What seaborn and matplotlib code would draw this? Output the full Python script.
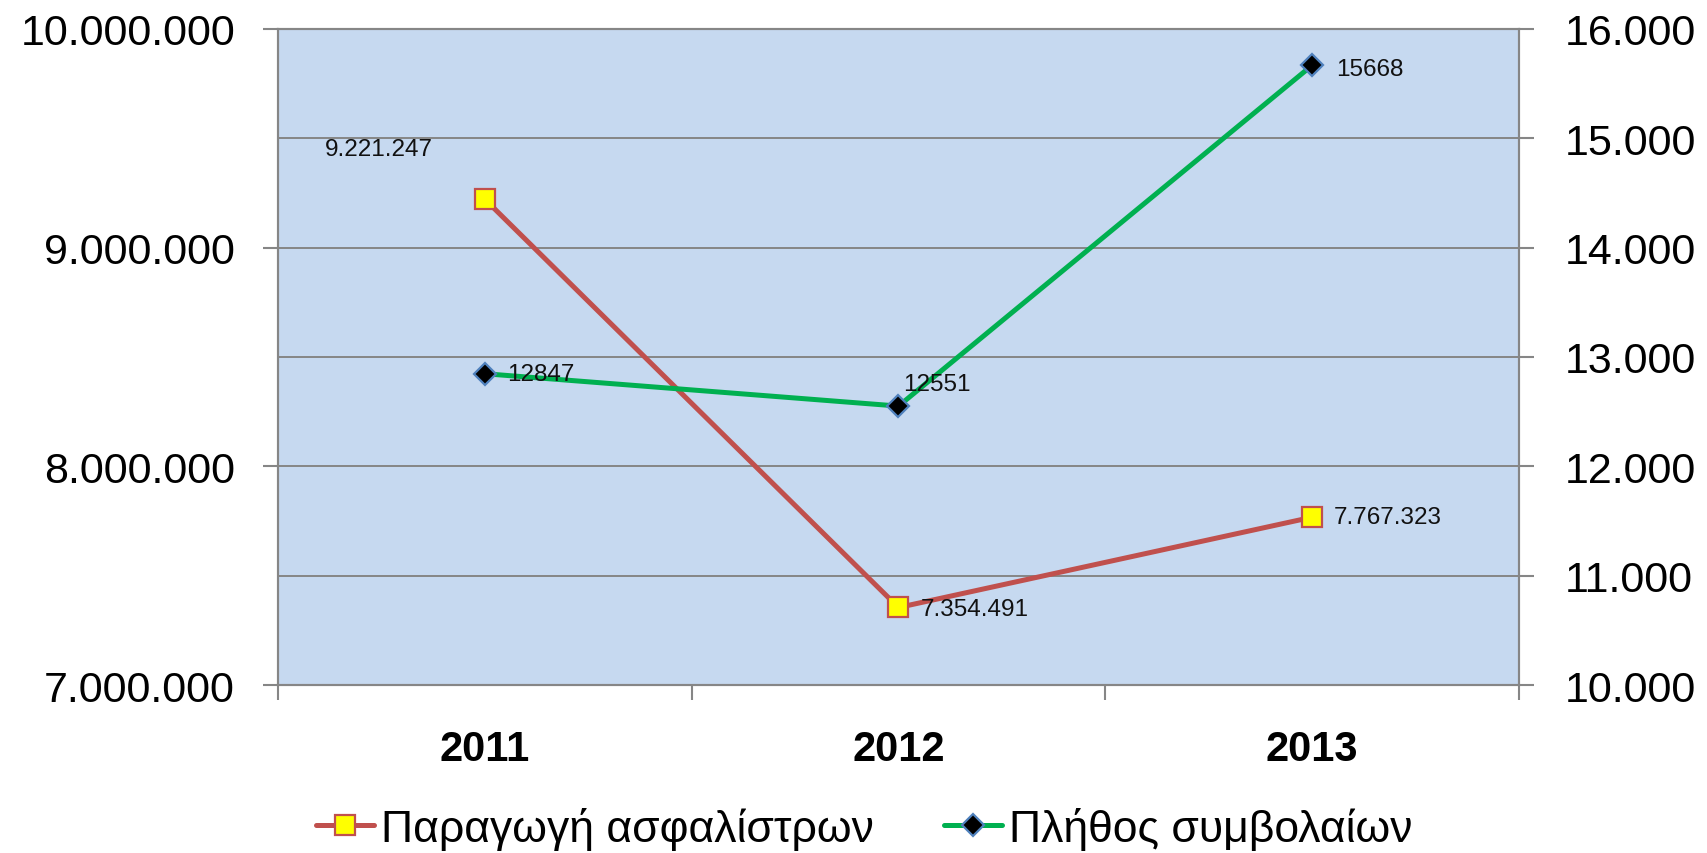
import matplotlib
matplotlib.use("Agg")
import matplotlib.pyplot as plt
from matplotlib.ticker import FixedLocator, FixedFormatter, NullFormatter, MultipleLocator, FuncFormatter
import seaborn as sns
import pandas as pd

# data
years = [2011, 2012, 2013]
year_labels = ["2011", "2012", "2013"]
premiums = [9221247, 7354491, 7767323]      # Παραγωγή ασφαλίστρων (left axis)
contracts = [12847, 12551, 15668]           # Πλήθος συμβολαίων (right axis)
series_names = ["Παραγωγή ασφαλίστρων", "Πλήθος συμβολαίων"]

df = pd.DataFrame({"year": years, "premiums": premiums, "contracts": contracts})

sns.set_style("white")
plt.rcParams["font.family"] = ["Liberation Sans", "DejaVu Sans"]
plt.rcParams["text.color"] = "black"

grey = "#868686"
red = "#C0504D"
green = "#00B050"


def dots(v, pos=None):
    return f"{int(round(v)):,}".replace(",", ".")


fig = plt.figure(figsize=(17.08, 8.54), dpi=100)
ax = fig.add_axes([0.1628, 0.1967, 0.7265, 0.7682])
ax.set_facecolor("#C6D9F0")

sns.lineplot(data=df, x="year", y="premiums", ax=ax, color=red, linewidth=3.6,
             marker="s", markersize=14, markerfacecolor="#FFFF00",
             markeredgecolor=red, markeredgewidth=1.6, legend=False, zorder=3)

ax2 = ax.twinx()
sns.lineplot(data=df, x="year", y="contracts", ax=ax2, color=green, linewidth=3.6,
             marker="D", markersize=11, markerfacecolor="black",
             markeredgecolor="#4F81BD", markeredgewidth=1.6, legend=False, zorder=3)

# x axis: category boundaries as ticks, year labels in the middle
ax.set_xlim(years[0] - 0.5, years[-1] + 0.5)
ax.xaxis.set_major_locator(FixedLocator([y - 0.5 for y in years] + [years[-1] + 0.5]))
ax.xaxis.set_major_formatter(NullFormatter())
ax.xaxis.set_minor_locator(FixedLocator(years))
ax.xaxis.set_minor_formatter(FixedFormatter(year_labels))
ax.tick_params(axis="x", which="major", direction="out", length=11, width=1.5,
               color=grey, bottom=True)
ax.tick_params(axis="x", which="minor", length=0, pad=32, labelsize=30, labelcolor="black")
for t in ax.xaxis.get_minorticklabels():
    t.set_fontweight("bold")
ax.set_xlabel("")

# left axis
ax.set_ylim(7000000, 10000000)
ax.yaxis.set_major_locator(MultipleLocator(1000000))
ax.yaxis.set_minor_locator(MultipleLocator(500000))
ax.yaxis.set_major_formatter(FuncFormatter(dots))
ax.tick_params(axis="y", which="major", direction="out", length=11, width=1.5,
               color=grey, left=True, labelsize=31, pad=20, labelcolor="black")
ax.tick_params(axis="y", which="minor", length=0)
ax.grid(True, axis="y", which="both", color=grey, linewidth=1.4)
ax.set_ylabel("")

# right axis
ax2.set_ylim(10000, 16000)
ax2.yaxis.set_major_locator(MultipleLocator(1000))
ax2.yaxis.set_major_formatter(FuncFormatter(dots))
ax2.tick_params(axis="y", direction="out", length=11, width=1.5, color=grey,
                right=True, labelsize=31, pad=22, labelcolor="black")
ax2.set_ylabel("")

for a in (ax, ax2):
    for s in a.spines.values():
        s.set_color(grey)
        s.set_linewidth(1.5)

# data labels
label_kw = dict(textcoords="offset pixels", fontsize=17.5, color="#111111", va="center")
ax.annotate(dots(premiums[0]), (years[0], premiums[0]), xytext=(-106, 50), ha="center", **label_kw)
ax.annotate(dots(premiums[1]), (years[1], premiums[1]), xytext=(22, -2), ha="left", **label_kw)
ax.annotate(dots(premiums[2]), (years[2], premiums[2]), xytext=(22, 0), ha="left", **label_kw)
ax2.annotate(str(contracts[0]), (years[0], contracts[0]), xytext=(22, 0), ha="left", **label_kw)
ax2.annotate(str(contracts[1]), (years[1], contracts[1]), xytext=(5, 22), ha="left", **label_kw)
ax2.annotate(str(contracts[2]), (years[2], contracts[2]), xytext=(24, -4), ha="left", **label_kw)

handles = [ax.lines[0], ax2.lines[0]]
fig.legend(handles, series_names, loc="center", bbox_to_anchor=(0.506, 0.029),
           ncol=2, frameon=False, fontsize=32, handlelength=1.3, handletextpad=0.15,
           columnspacing=1.6, labelcolor="black")

fig.savefig("out.png", dpi=100)
